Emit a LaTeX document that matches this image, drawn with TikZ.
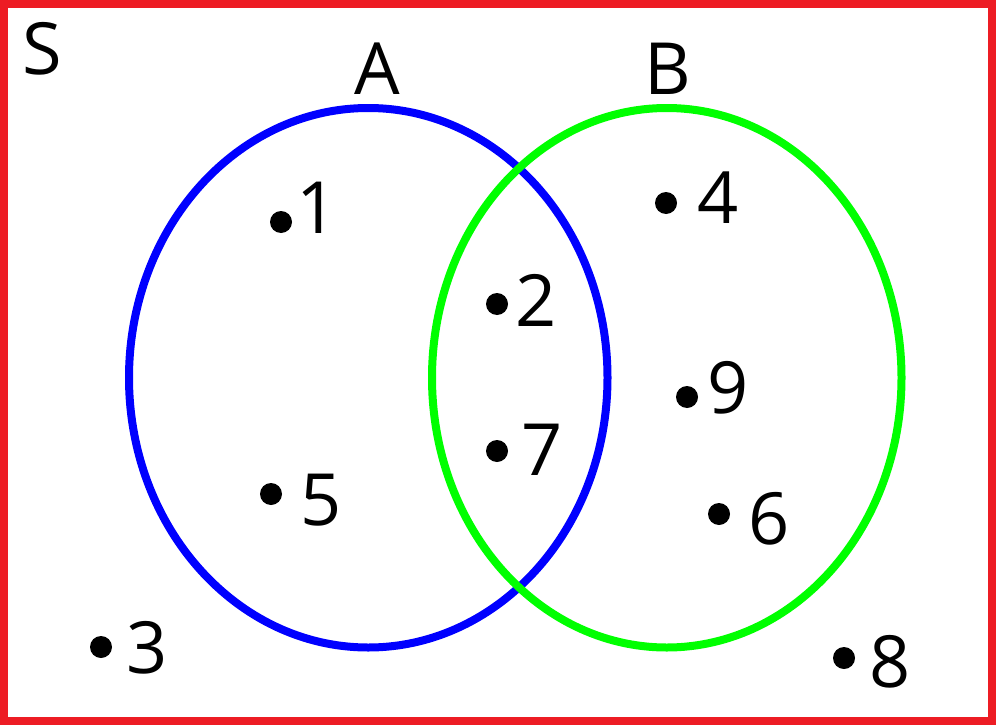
\documentclass[tikz,border=0pt]{standalone}
\usepackage{fontspec}
\setmainfont{Open Sans}
\usetikzlibrary{shapes.geometric}
\definecolor{frame}{HTML}{ED1C24}
\definecolor{setblue}{HTML}{0000FF}
\definecolor{setgreen}{HTML}{00FF00}
\tikzset{
  dot/.style={circle, fill=black, inner sep=0pt, minimum size=22pt},
  lbl/.style={inner sep=0pt, font=\fontsize{72}{72}\selectfont},
  setring/.style={ellipse, draw, line width=8pt, inner sep=0pt},
}
\begin{document}
\begin{tikzpicture}[x=1pt,y=-1pt]
\useasboundingbox (0,0) rectangle (996,725);
\fill[white] (0,0) rectangle (996,725);
\draw[frame, line width=8pt] (4,4) rectangle (992,721);
\node[setring, draw=setblue, minimum width=478.5pt, minimum height=539.5pt] (setA) at (368.25,377.75) {};
\node[setring, draw=setgreen, minimum width=469.5pt, minimum height=539.5pt] (setB) at (666.75,377.75) {};
\node[lbl] (S) at (42,49) {S};
\node[lbl] (A) at (377,69) {A};
\node[lbl] (B) at (668,69) {B};
% elements
\node[dot] (d1) at (281,222) {};
\node[lbl] (l1) at (317,208) {1};
\node[dot] (d2) at (497,304) {};
\node[lbl] (l2) at (536,300) {2};
\node[dot] (d7) at (497,451) {};
\node[lbl] (l7) at (542,450) {7};
\node[dot] (d5) at (271,494) {};
\node[lbl] (l5) at (321,500) {5};
\node[dot] (d3) at (101,647) {};
\node[lbl] (l3) at (147,648) {3};
\node[dot] (d4) at (666,203) {};
\node[lbl] (l4) at (718,198) {4};
\node[dot] (d9) at (687,397) {};
\node[lbl] (l9) at (728,388) {9};
\node[dot] (d6) at (719,514) {};
\node[lbl] (l6) at (769,519) {6};
\node[dot] (d8) at (844,658) {};
\node[lbl] (l8) at (890,662) {8};
\end{tikzpicture}
\end{document}
